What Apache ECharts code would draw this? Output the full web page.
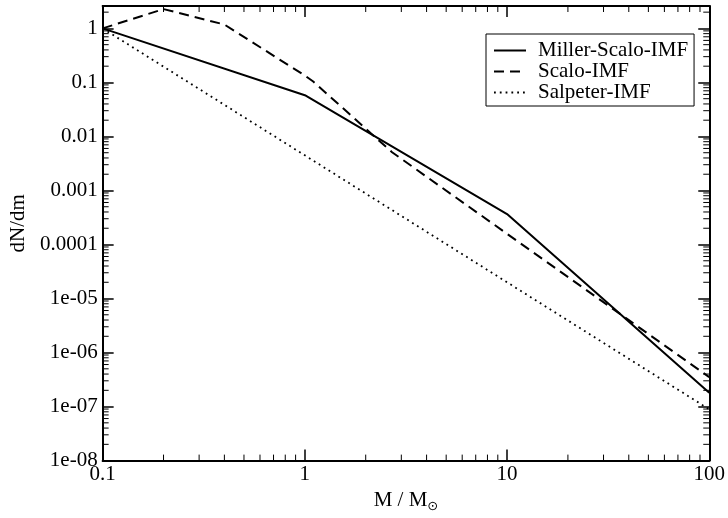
<!DOCTYPE html>
<html>
<head>
<meta charset="utf-8">
<script src="https://cdn.jsdelivr.net/npm/echarts@6/dist/echarts.min.js"></script>
<style>
  html, body { margin: 0; padding: 0; background: #fff; }
  #chart { width: 728px; height: 518px; }
</style>
</head>
<body>
<div id="chart"></div>
<script>
// Initial mass functions, normalised to 1 at 0.1 solar masses
const millerScaloMass = [0.1, 1, 10, 100];
const millerScaloDens = [1, 0.058, 3.66e-4, 1.8e-7];

const scaloMass = [0.1, 0.2, 0.4, 1.0, 1.1, 2.7, 100];
const scaloDens = [1, 2.28, 1.18, 0.134, 0.104, 5.1e-3, 3.5e-7];

const salpeterMass = [0.1, 1, 10, 100];
const salpeterDens = [1, 4.47e-3, 2.0e-5, 8.9e-8];

const seriesNames = ['Miller-Scalo-IMF', 'Scalo-IMF', 'Salpeter-IMF'];

// Axis tick labels (one per decade)
const xTickLabels = ['0.1', '1', '10', '100'];
const yTickLabels = ['1e-08', '1e-07', '1e-06', '1e-05', '0.0001', '0.001', '0.01', '0.1', '1'];
const xMin = 0.1, xMax = 100;
const yMin = 1e-8, yMax = 2.6;

// Minor tick positions (2..9 within each decade)
const xMinorTicks = [0.2, 0.3, 0.4, 0.5, 0.6, 0.7, 0.8, 0.9,
                     2, 3, 4, 5, 6, 7, 8, 9,
                     20, 30, 40, 50, 60, 70, 80, 90];
const yMinorTicks = [];
for (let e = -8; e <= 0; e++) {
  for (let k = 2; k <= 9; k++) {
    const v = k * Math.pow(10, e);
    if (v < yMax) yMinorTicks.push(v);
  }
}

const FONT = '"Liberation Serif", "Times New Roman", serif';
const FS = 21;

function pairs(xs, ys) { return xs.map((x, i) => [x, ys[i]]); }

function decadeLabel(labels, minExp) {
  return function (value) {
    const l = Math.log10(value);
    const e = Math.round(l);
    if (Math.abs(l - e) > 1e-6) return '';
    return labels[e - minExp] || '';
  };
}

const chart = echarts.init(document.getElementById('chart'), null, { renderer: 'canvas' });

const axisLine = { show: true, onZero: false, lineStyle: { color: '#000', width: 2 } };
const majorTick = { show: true, inside: true, length: 11, lineStyle: { color: '#000', width: 1.5 } };

function minorTickSeries(values, isX) {
  return {
    type: 'custom',
    silent: true,
    xAxisIndex: 0,
    yAxisIndex: 0,
    data: values.map(v => isX ? [v, 1] : [1, v]),
    renderItem: function (params, api) {
      const cs = params.coordSys;
      const p = api.coord([api.value(0), api.value(1)]);
      const len = 6;
      const style = { stroke: '#000', lineWidth: 1 };
      let shapes;
      if (isX) {
        const x = p[0];
        shapes = [
          { x1: x, y1: cs.y + cs.height, x2: x, y2: cs.y + cs.height - len },
          { x1: x, y1: cs.y, x2: x, y2: cs.y + len }
        ];
      } else {
        const y = p[1];
        shapes = [
          { x1: cs.x, y1: y, x2: cs.x + len, y2: y },
          { x1: cs.x + cs.width, y1: y, x2: cs.x + cs.width - len, y2: y }
        ];
      }
      return {
        type: 'group',
        children: shapes.map(s => ({ type: 'line', shape: s, style: style }))
      };
    },
    z: 3
  };
}

const option = {
  animation: false,
  backgroundColor: '#fff',
  grid: { left: 95, right: 16, top: 6, bottom: 49, containLabel: false },
  legend: {
    data: seriesNames,
    orient: 'vertical',
    left: 486,
    top: 34,
    padding: [6, 6, 3, 7],
    itemGap: 0,
    itemWidth: 32,
    itemHeight: 12,
    backgroundColor: '#fff',
    borderColor: '#000',
    borderWidth: 1,
    borderRadius: 0,
    selectedMode: false,
    itemStyle: { opacity: 0 },
    textStyle: { fontFamily: FONT, fontSize: FS, color: '#000', lineHeight: 20, padding: [0, 0, 0, 7] }
  },
  xAxis: [
    {
      type: 'log', logBase: 10, min: xMin, max: xMax,
      name: 'M / M{sub|⊙}',
      nameLocation: 'middle',
      nameGap: 23,
      nameTextStyle: {
        fontFamily: FONT, fontSize: FS, color: '#000',
        rich: { sub: { fontFamily: '"DejaVu Sans", sans-serif', fontSize: 13, color: '#000', padding: [13, 0, 0, 0] } }
      },
      axisLine: axisLine,
      axisTick: majorTick,
      axisLabel: { fontFamily: FONT, fontSize: FS, color: '#000', margin: 3, formatter: decadeLabel(xTickLabels, -1) },
      splitLine: { show: false },
      minorTick: { show: false }
    },
    {
      type: 'log', logBase: 10, min: xMin, max: xMax, position: 'top',
      axisLine: axisLine,
      axisTick: majorTick,
      axisLabel: { show: false },
      splitLine: { show: false }
    }
  ],
  yAxis: [
    {
      type: 'log', logBase: 10, min: yMin, max: yMax, splitNumber: 10,
      name: 'dN/dm',
      nameLocation: 'middle',
      nameGap: 58,
      nameTextStyle: { fontFamily: FONT, fontSize: FS, color: '#000', padding: [0, 0, 0, 20] },
      axisLine: axisLine,
      axisTick: majorTick,
      axisLabel: { fontFamily: FONT, fontSize: FS, color: '#000', margin: 5, formatter: decadeLabel(yTickLabels, -8) },
      splitLine: { show: false },
      minorTick: { show: false }
    },
    {
      type: 'log', logBase: 10, min: yMin, max: yMax, splitNumber: 10, position: 'right',
      axisLine: axisLine,
      axisTick: majorTick,
      axisLabel: { show: false },
      splitLine: { show: false }
    }
  ],
  series: [
    {
      name: seriesNames[0], type: 'line', symbol: 'none',
      data: pairs(millerScaloMass, millerScaloDens),
      lineStyle: { color: '#000', width: 2, type: 'solid' },
      itemStyle: { color: '#000' },
      z: 5
    },
    {
      name: seriesNames[1], type: 'line', symbol: 'none',
      data: pairs(scaloMass, scaloDens),
      lineStyle: { color: '#000', width: 2, type: [10, 6] },
      itemStyle: { color: '#000' },
      z: 5
    },
    {
      name: seriesNames[2], type: 'line', symbol: 'none',
      data: pairs(salpeterMass, salpeterDens),
      lineStyle: { color: '#000', width: 1.8, type: [1.8, 4] },
      itemStyle: { color: '#000' },
      z: 5
    },
    minorTickSeries(xMinorTicks, true),
    minorTickSeries(yMinorTicks, false)
  ]
};

chart.setOption(option);
</script>
</body>
</html>
